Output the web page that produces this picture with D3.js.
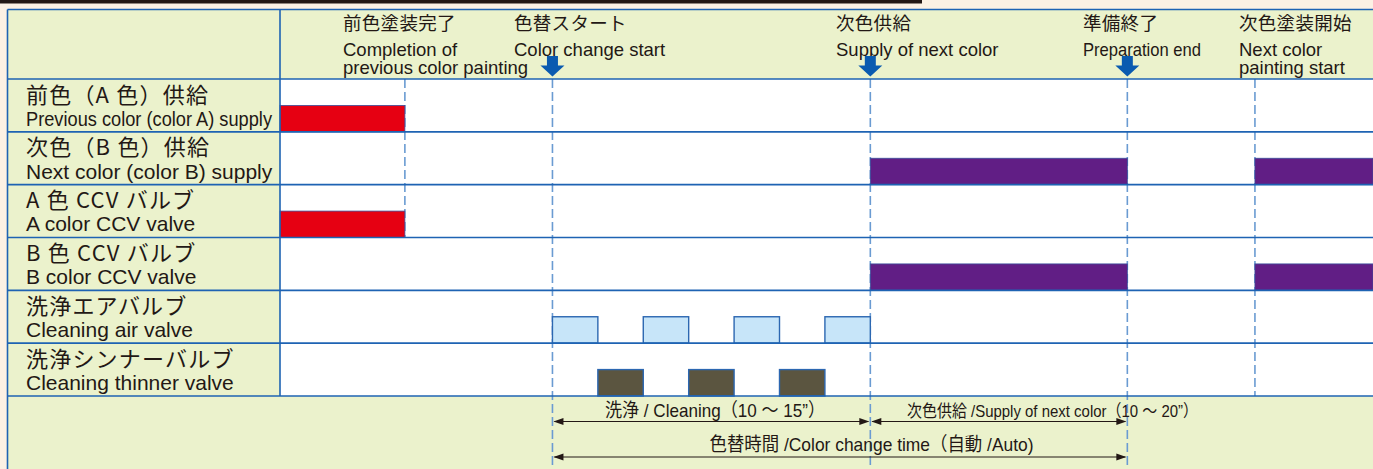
<!DOCTYPE html>
<html>
<head>
<meta charset="utf-8">
<script src="https://cdn.jsdelivr.net/npm/d3@7"></script>
<style>
  body { margin: 0; background: #fcf1e4; }
  svg { display: block; }
</style>
</head>
<body>
<svg id="chart" width="1373" height="469"></svg>
<script>
// rows of the timing chart (top to bottom)
const rowsJa = ['前色（A 色）供給', '次色（B 色）供給', 'A 色 CCV バルブ', 'B 色 CCV バルブ', '洗浄エアバルブ', '洗浄シンナーバルブ'];
const rowsEn = ['Previous color (color A) supply', 'Next color (color B) supply', 'A color CCV valve', 'B color CCV valve', 'Cleaning air valve', 'Cleaning thinner valve'];

// "on" intervals of each row, in time units
const rowOn = [
  [[0, 2.75]],
  [[13, 18.66], [21.47, 24.07]],
  [[0, 2.75]],
  [[13, 18.66], [21.47, 24.07]],
  [[6, 7], [8, 9], [10, 11], [12, 13]],
  [[7, 8], [9, 10], [11, 12]],
];
const rowColors = ['#e60012', '#611e85', '#e60012', '#611e85', '#c7e5f9', '#5b5540'];

// events along the time axis
const eventTimes = [2.75, 6, 13, 18.66, 21.47];
const eventJa = ['前色塗装完了', '色替スタート', '次色供給', '準備終了', '次色塗装開始'];
const eventEn = [
  ['Completion of', 'previous color painting'],
  ['Color change start'],
  ['Supply of next color'],
  ['Preparation end'],
  ['Next color', 'painting start'],
];
const eventArrow = [false, true, true, true, false];

// duration spans under the chart
const spanFrom = [1, 2, 1];
const spanTo = [2, 3, 3];
const spanLabels = ['洗浄 / Cleaning（10 ～ 15”）', '次色供給 /Supply of next color（10 ～ 20”）', '色替時間 /Color change time（自動 /Auto)'];
const spanLevel = [0, 0, 1];

const W = 1373, H = 469;
const tblL = 7.5, tblT = 9.5, labelW = 280, headerB = 79, rowsB = 396;
const ink = '#231815', grid = '#1e63b3', green = '#ebf2cc';
const jp = '"Noto Sans CJK JP", sans-serif';
const en = '"Liberation Sans", Arial, "Noto Sans CJK JP", sans-serif';

const svg = d3.select('#chart');

const x = d3.scaleLinear().domain([0, 24.07]).range([labelW, W]);
const y = d3.scaleBand().domain(d3.range(rowsJa.length)).range([headerB, rowsB]);

// top dark band
svg.append('rect').attr('x', 0).attr('y', 0).attr('width', 922).attr('height', 3.5).attr('fill', ink);

// table background
svg.append('rect').attr('x', tblL).attr('y', tblT).attr('width', W - tblL).attr('height', H - tblT).attr('fill', green);
svg.append('rect').attr('x', labelW).attr('y', headerB).attr('width', W - labelW).attr('height', rowsB - headerB).attr('fill', '#fff');

// event guide lines
const guideEnd = i => i === 0 ? y(2) + y.bandwidth() : (i === 4 ? rowsB : H);
svg.append('g').selectAll('line')
  .data(eventTimes)
  .join('line')
  .attr('x1', d => x(d)).attr('x2', d => x(d))
  .attr('y1', headerB).attr('y2', (d, i) => guideEnd(i))
  .attr('stroke', '#6a9bd2')
  .attr('stroke-width', 1.6)
  .attr('stroke-dasharray', '9,4');

// signal bars (lower half of each row)
const bars = rowOn.flatMap((segs, r) => segs.map(s => ({ r, s })));
svg.append('g').selectAll('rect')
  .data(bars)
  .join('rect')
  .attr('x', d => x(d.s[0]))
  .attr('y', d => y(d.r) + y.bandwidth() / 2)
  .attr('width', d => x(d.s[1]) - x(d.s[0]))
  .attr('height', d => y.bandwidth() / 2)
  .attr('fill', d => rowColors[d.r])
  .attr('stroke', d => d.r >= 4 ? '#2c67b1' : '#3b4f9c')
  .attr('stroke-width', d => d.r >= 4 ? 1.4 : 0.8);

// grid
const hLines = [tblT, ...d3.range(rowsJa.length).map(i => y(i)), rowsB];
svg.append('g').selectAll('line')
  .data(hLines)
  .join('line')
  .attr('x1', tblL).attr('x2', W)
  .attr('y1', d => d).attr('y2', d => d)
  .attr('stroke', grid).attr('stroke-width', 1.6);
svg.append('line').attr('x1', tblL).attr('x2', tblL).attr('y1', tblT).attr('y2', H).attr('stroke', grid).attr('stroke-width', 1.6);
svg.append('line').attr('x1', labelW).attr('x2', labelW).attr('y1', tblT).attr('y2', rowsB).attr('stroke', grid).attr('stroke-width', 1.6);

// row labels
const rowG = svg.append('g').selectAll('g')
  .data(rowsJa)
  .join('g')
  .attr('transform', (d, i) => `translate(26,${y(i)})`);
rowG.append('text')
  .attr('y', 23.5)
  .attr('font-family', jp).attr('font-size', 22).attr('letter-spacing', 1.2).attr('fill', ink)
  .text(d => d);
rowG.append('text')
  .attr('y', 46.8)
  .attr('font-family', en)
  .attr('font-size', 21)
  .attr('fill', ink)
  .each(function (d, i) {
    // first label is set in a condensed face in the original
    if (i === 0) d3.select(this).attr('textLength', 246).attr('lengthAdjust', 'spacingAndGlyphs');
  })
  .text((d, i) => rowsEn[i]);

// header labels
const headerX = [343, 514, 836, 1083, 1239];
const headerFit = { 'Preparation end': 118 };
const evG = svg.append('g').selectAll('g')
  .data(eventJa)
  .join('g')
  .attr('transform', (d, i) => `translate(${headerX[i]},0)`);
evG.append('text')
  .attr('y', 30)
  .attr('font-family', jp).attr('font-size', 18.5).attr('letter-spacing', 0.3).attr('fill', ink)
  .text(d => d);
evG.selectAll('text.en')
  .data((d, i) => eventEn[i])
  .join('text')
  .attr('class', 'en')
  .attr('y', (d, j) => 55.5 + j * 18.5)
  .attr('font-family', en).attr('font-size', 18.5).attr('fill', ink)
  .each(function (d) {
    if (headerFit[d]) d3.select(this).attr('textLength', headerFit[d]).attr('lengthAdjust', 'spacingAndGlyphs');
  })
  .text(d => d);

// header arrows
const arrowPath = cx => `M${cx - 5.5},56 H${cx + 5.5} V65.5 H${cx + 12} L${cx},76.5 L${cx - 12},65.5 H${cx - 5.5} Z`;
svg.append('g').selectAll('path')
  .data(eventTimes.filter((d, i) => eventArrow[i]))
  .join('path')
  .attr('d', d => arrowPath(x(d)))
  .attr('fill', '#0a5bb0');

// duration spans
const spanY = [421.5, 457];
const spanTextX = [605, 907, 709.5];
const spanTextW = [220, 291, 324];
const head = 10, hw = 3.5;
const spanG = svg.append('g').selectAll('g')
  .data(spanLabels)
  .join('g');
spanG.append('line')
  .attr('x1', (d, i) => x(eventTimes[spanFrom[i]]) + 2)
  .attr('x2', (d, i) => x(eventTimes[spanTo[i]]) - 2)
  .attr('y1', (d, i) => spanY[spanLevel[i]])
  .attr('y2', (d, i) => spanY[spanLevel[i]])
  .attr('stroke', ink).attr('stroke-width', 1);
spanG.append('path')
  .attr('d', (d, i) => {
    const a = x(eventTimes[spanFrom[i]]) + 1, b = x(eventTimes[spanTo[i]]) - 1, yy = spanY[spanLevel[i]];
    return `M${a},${yy} L${a + head},${yy - hw} L${a + head},${yy + hw} Z M${b},${yy} L${b - head},${yy - hw} L${b - head},${yy + hw} Z`;
  })
  .attr('fill', ink);
spanG.append('text')
  .attr('x', (d, i) => spanTextX[i])
  .attr('y', (d, i) => spanY[spanLevel[i]] - (spanLevel[i] ? 6 : 4.5))
  .attr('font-family', en)
  .attr('font-size', (d, i) => i === 1 ? 17 : 19)
  .attr('textLength', (d, i) => spanTextW[i])
  .attr('lengthAdjust', 'spacingAndGlyphs')
  .attr('fill', ink)
  .text(d => d);
</script>
</body>
</html>
